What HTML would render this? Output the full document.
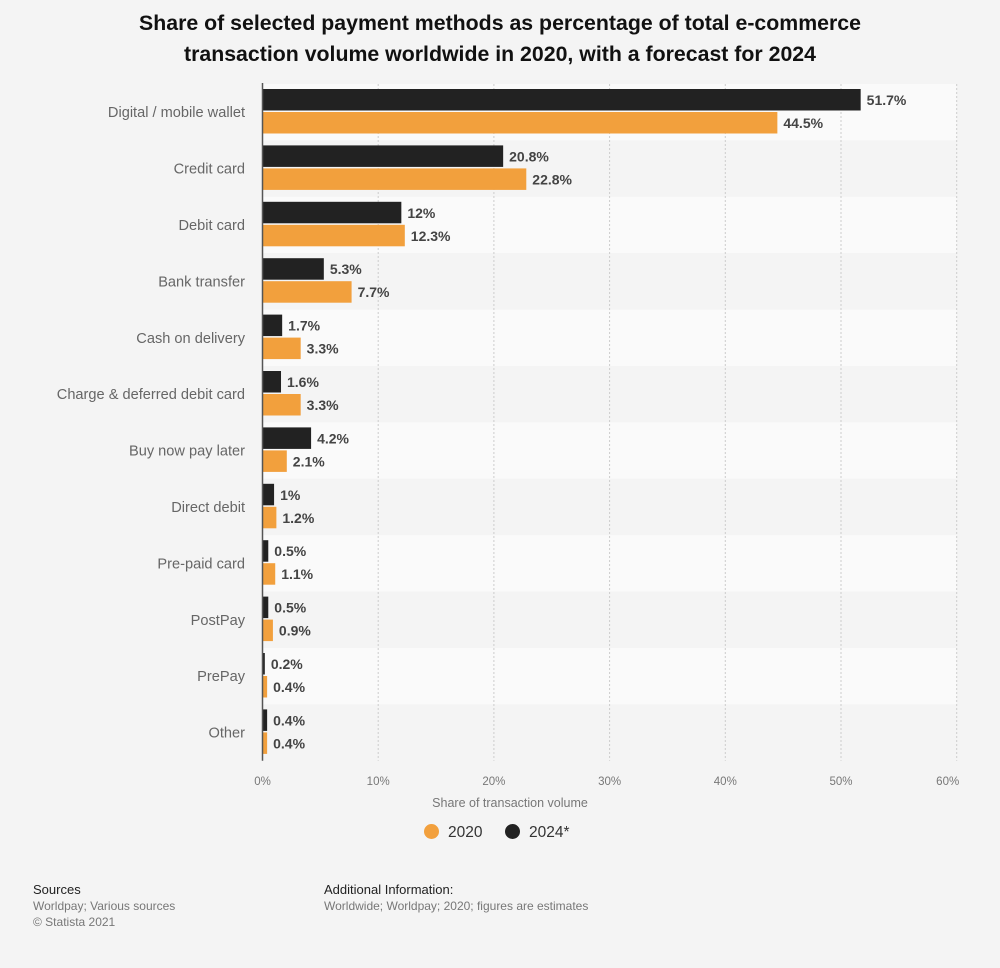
<!DOCTYPE html>
<html><head><meta charset="utf-8"><style>
body{margin:0;background:#f4f4f4;font-family:"Liberation Sans",Arial,sans-serif;}
#wrap{position:relative;width:1000px;height:968px;overflow:hidden;background:#f4f4f4}
.t{position:absolute;white-space:nowrap}
</style></head><body>
<div id="wrap">
<div class="t" style="left:0;width:1000px;top:8px;text-align:center;font-size:21.3px;font-weight:bold;color:#111;line-height:31px">Share of selected payment methods as percentage of total e-commerce<br>transaction volume worldwide in 2020, with a forecast for 2024</div>
<svg id="chart" width="1000" height="968" style="position:absolute;left:0;top:0"></svg>
<div class="t" style="left:510px;top:796px;font-size:12.5px;color:#777;transform:translateX(-50%)">Share of transaction volume</div>
<div class="t" style="left:424px;top:824px;font-size:15.5px;color:#333"><span style="display:inline-block;width:15px;height:15px;border-radius:50%;background:#f2a03d;vertical-align:-2px;margin-right:9px"></span>2020</div>
<div class="t" style="left:505px;top:824px;font-size:15.5px;color:#333"><span style="display:inline-block;width:15px;height:15px;border-radius:50%;background:#222;vertical-align:-2px;margin-right:9px"></span>2024*</div>
<div class="t" style="left:33px;top:882px;font-size:13px;color:#222;line-height:16px">Sources<br><span style="font-size:12px;color:#777">Worldpay; Various sources<br>© Statista 2021</span></div>
<div class="t" style="left:324px;top:882px;font-size:13px;color:#222;line-height:16px">Additional Information:<br><span style="font-size:12px;color:#777">Worldwide; Worldpay; 2020; figures are estimates</span></div>
</div>
<script>
const categories=["Digital / mobile wallet","Credit card","Debit card","Bank transfer","Cash on delivery","Charge & deferred debit card","Buy now pay later","Direct debit","Pre-paid card","PostPay","PrePay","Other"];
const values2024=[51.7,20.8,12,5.3,1.7,1.6,4.2,1,0.5,0.5,0.2,0.4];
const values2020=[44.5,22.8,12.3,7.7,3.3,3.3,2.1,1.2,1.1,0.9,0.4,0.4];
const ticks=[0,10,20,30,40,50,60];
const NS="http://www.w3.org/2000/svg";
const svg=document.getElementById('chart');
const x0=262.5,pxPer=11.57,top0=84,rowH=56.4;
const x=v=>x0+v*pxPer;
const yRow=i=>top0+i*rowH;
function el(t,a){const e=document.createElementNS(NS,t);for(const k in a)e.setAttribute(k,a[k]);svg.appendChild(e);return e;}
categories.forEach((c,i)=>{
 const r=el('rect',{x:x0,y:yRow(i),width:x(60)-x0,height:rowH,fill:i%2?'#f4f4f4':'#fafafa'});
 
 
});
ticks.forEach(t=>{
 if(t>0){const g=el('line',{x1:x(t),x2:x(t),y1:top0,y2:top0+12*rowH,stroke:'#ccc','stroke-dasharray':'2,2'});
 
 }
 const tx=el('text',{x:x(t)-(t==60?9:0),y:785,'text-anchor':'middle','font-size':11.5,fill:'#777'});
 tx.textContent=t+'%';
 
 
});
categories.forEach((c,i)=>{
 const y=yRow(i);
 const lab=el('text',{x:245,y:y+rowH/2+5,'text-anchor':'end','font-size':14.6,fill:'#666'});
 lab.textContent=c;
 
 
 [[values2024[i],'#222',5,'bar-2024'],[values2020[i],'#f2a03d',28,'bar-2020']].forEach(([v,col,off,nm])=>{
  const b=el('rect',{x:x0,y:y+off,width:x(v)-x0,height:21.5,fill:col});
  
  
  const vt=el('text',{x:x(v)+6,y:y+off+16,'font-size':14,'font-weight':'bold',fill:'#444'});
  vt.textContent=v+'%';
  
  
 });
});
const ax=el('line',{x1:x0,x2:x0,y1:top0-1,y2:top0+12*rowH,stroke:'#555','stroke-width':1.5});


</script>
</body></html>
